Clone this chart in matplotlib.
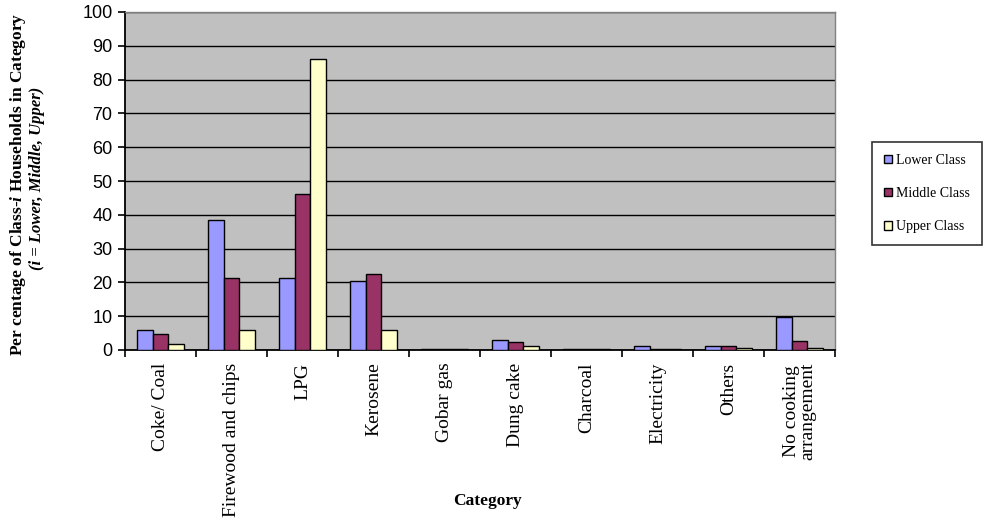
import matplotlib
matplotlib.use("Agg")
import matplotlib.pyplot as plt
import numpy as np

plt.rcParams["mathtext.fontset"] = "custom"
plt.rcParams["mathtext.it"] = "Liberation Serif:italic:bold"
plt.rcParams["mathtext.rm"] = "Liberation Serif:bold"

categories = ["Coke/ Coal", "Firewood and chips", "LPG", "Kerosene", "Gobar gas",
              "Dung cake", "Charcoal", "Electricity", "Others", "No cooking\narrangement"]
lower_class = [5.9, 38.5, 21.2, 20.5, 0.3, 3.0, 0.3, 1.3, 1.3, 9.9]
middle_class = [4.6, 21.2, 46.2, 22.4, 0.3, 2.3, 0.3, 0.3, 1.3, 2.8]
upper_class = [1.7, 5.9, 86.0, 5.9, 0.3, 1.3, 0.3, 0.3, 0.5, 0.5]
series_names = ["Lower Class", "Middle Class", "Upper Class"]
y_ticks = list(range(0, 101, 10))

colors = ["#9999FF", "#993366", "#FFFFCC"]

fig = plt.figure(figsize=(9.98, 5.22), dpi=100)
ax = fig.add_axes([125 / 998, 1 - 350 / 522, 710 / 998, 338 / 522])
ax.set_facecolor("#C0C0C0")

x = np.arange(len(categories))
w = 0.225
for i, (vals, name, c) in enumerate(zip([lower_class, middle_class, upper_class], series_names, colors)):
    ax.bar(x + (i - 1) * w, vals, width=w, color=c, edgecolor="black", linewidth=1.0,
           label=name, zorder=3)

ax.set_xlim(-0.5, len(categories) - 0.5)
ax.set_ylim(0, 100)
ax.set_yticks(y_ticks)
ax.yaxis.grid(True, color="black", linewidth=1.0, zorder=1)
ax.set_axisbelow(True)

ax.set_xticks(np.arange(len(categories) + 1) - 0.5)
ax.set_xticklabels([])
ax.set_xticks(x, minor=True)
ax.set_xticklabels(categories, minor=True, rotation=90, family="Liberation Serif",
                   fontsize=14, va="top", ha="center", linespacing=0.95)
ax.tick_params(axis="x", which="minor", length=0, pad=9)
ax.tick_params(axis="x", which="major", length=5, width=1.2, direction="out")
ax.tick_params(axis="y", length=5, width=1.2, direction="out", labelsize=13, pad=4)
for lab in ax.get_yticklabels():
    lab.set_family("Liberation Sans")

for side in ["left", "bottom"]:
    ax.spines[side].set_color("black")
    ax.spines[side].set_linewidth(1.3)
for side in ["top", "right"]:
    ax.spines[side].set_color("#808080")
    ax.spines[side].set_linewidth(1.0)

fig.text(487 / 998, 1 - 501 / 522, "Category", family="Liberation Serif",
         fontweight="bold", fontsize=12.5, ha="center", va="center")
fig.text(18 / 998, 1 - 184 / 522, "Per centage of Class-$i$ Households in Category",
         family="Liberation Serif", fontweight="bold", fontsize=12.5, rotation=90,
         ha="center", va="center")
fig.text(37 / 998, 1 - 178 / 522, "(i = Lower, Middle, Upper)",
         family="Liberation Serif", fontweight="bold", style="italic", fontsize=12,
         rotation=90, ha="center", va="center")

leg = ax.legend(loc="upper left", bbox_to_anchor=((872 - 125) / 710, (350 - 142) / 338),
                prop={"family": "Liberation Serif", "size": 10}, frameon=True,
                fancybox=False, edgecolor="black", handlelength=0.6, handleheight=0.6,
                handletextpad=0.3, labelspacing=1.45, borderpad=0.85, borderaxespad=0)
leg.get_frame().set_linewidth(1.2)

fig.savefig("out.png", dpi=100, facecolor="white")
